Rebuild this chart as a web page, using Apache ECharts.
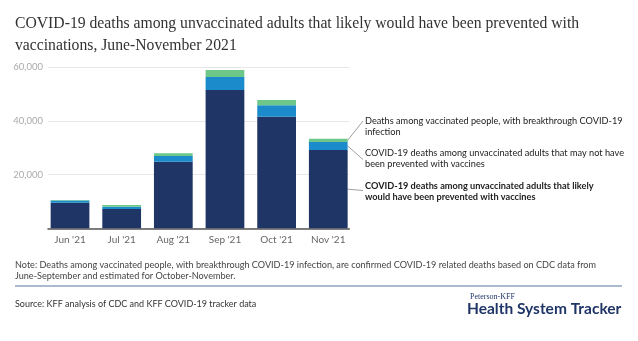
<!DOCTYPE html>
<html>
<head>
<meta charset="utf-8">
<script src="https://cdn.jsdelivr.net/npm/echarts@6/dist/echarts.min.js"></script>
<style>
  html, body { margin: 0; padding: 0; background: #fff; }
  #chart { width: 638px; height: 341px; }
</style>
</head>
<body>
<div id="chart"></div>
<script>
// Monthly deaths, June-November 2021
const months = ["Jun '21", "Jul '21", "Aug '21", "Sep '21", "Oct '21", "Nov '21"];
const preventable = [9500, 7200, 24800, 51400, 41500, 29100];
const notPreventable = [800, 800, 2100, 4900, 4250, 3000];
const breakthrough = [250, 650, 1000, 2600, 2000, 1250];
const yTicks = [0, 20000, 40000, 60000];

const seriesNames = [
  'COVID-19 deaths among unvaccinated adults that likely would have been prevented with vaccines',
  'COVID-19 deaths among unvaccinated adults that may not have been prevented with vaccines',
  'Deaths among vaccinated people, with breakthrough COVID-19 infection'
];

const NAVY = '#1f3566', BLUE = '#1b8bcb', GREEN = '#6cc788';
const SANS = 'Lato, "Noto Sans", sans-serif';

const chart = echarts.init(document.getElementById('chart'), null, { renderer: 'canvas' });

const yMax = yTicks[yTicks.length - 1];
const yStep = yTicks[1] - yTicks[0];

function barSeries(name, data, color) {
  return {
    name, type: 'bar', stack: 'deaths', data,
    xAxisIndex: 0, yAxisIndex: 0,
    barWidth: '75%',
    itemStyle: { color },
    emphasis: { disabled: true },
    z: 5
  };
}

chart.setOption({
  animation: false,
  backgroundColor: '#fff',
  title: {
    text: 'COVID-19 deaths among unvaccinated adults that likely would have been prevented with\nvaccinations, June-November 2021',
    left: 15, top: 13, padding: 0,
    textStyle: {
      fontFamily: '"Liberation Serif", "DejaVu Serif", serif',
      fontSize: 15.7, fontWeight: 'normal', color: '#333', lineHeight: 22
    }
  },
  grid: [
    // bars
    { left: 44.2, right: 283.9, top: 67, bottom: 112.7 },
    // frame: gridlines, value labels and baseline
    { left: 48, right: 288.7, top: 67, bottom: 112.7 }
  ],
  xAxis: [
    {
      gridIndex: 0, type: 'category', data: months,
      axisLine: { show: false }, axisTick: { show: false },
      axisLabel: { color: '#666', fontFamily: SANS, fontSize: 10, margin: 6 }
    },
    {
      gridIndex: 1, type: 'category', data: months,
      axisLine: { show: true, lineStyle: { color: '#555', width: 1.5 } },
      axisTick: { show: false }, axisLabel: { show: false }, z: 3
    }
  ],
  yAxis: [
    {
      gridIndex: 0, type: 'value', min: 0, max: yMax, interval: yStep,
      show: false
    },
    {
      gridIndex: 1, type: 'value', min: 0, max: yMax, interval: yStep,
      axisLine: { show: false }, axisTick: { show: false },
      splitLine: { lineStyle: { color: '#e6e6e6', width: 1 } },
      axisLabel: {
        color: '#aaa', fontFamily: SANS, fontSize: 9.5, margin: 5,
        formatter: v => (v === 0 ? '' : v.toLocaleString('en-US'))
      }
    }
  ],
  series: [
    barSeries(seriesNames[0], preventable, NAVY),
    barSeries(seriesNames[1], notPreventable, BLUE),
    barSeries(seriesNames[2], breakthrough, GREEN)
  ]
});

// Annotations next to the last bar, each tied to the middle of its segment
const last = months.length - 1;
const notes = [
  { series: 2, lines: ['Deaths among vaccinated people, with breakthrough COVID-19', 'infection'], textY: 116, lineEndY: 121, bold: false },
  { series: 1, lines: ['COVID-19 deaths among unvaccinated adults that may not have', 'been prevented with vaccines'], textY: 148, lineEndY: 159.5, bold: false },
  { series: 0, lines: ['COVID-19 deaths among unvaccinated adults that likely', 'would have been prevented with vaccines'], textY: 181, lineEndY: 190.5, bold: true }
];
const TEXT_X = 365;

const graphics = [];
notes.forEach(n => {
  const layout = chart.getModel().getSeriesByIndex(n.series).getData().getItemLayout(last);
  const x0 = layout.x + layout.width;
  const y0 = layout.y + layout.height / 2;
  graphics.push({
    type: 'line', silent: true,
    shape: { x1: x0, y1: y0, x2: TEXT_X - 2, y2: n.lineEndY },
    style: { stroke: '#888', lineWidth: 0.8 }
  });
  graphics.push({
    type: 'text', left: TEXT_X, top: n.textY, silent: true,
    style: {
      text: n.lines.join('\n'),
      font: (n.bold ? 'bold ' : '') + '9.2px ' + SANS,
      fill: '#222', lineHeight: 11
    }
  });
});

// Footer: note, rule, source and brand
graphics.push({
  type: 'text', left: 15, top: 259, silent: true,
  style: {
    text: 'Note: Deaths among vaccinated people, with breakthrough COVID-19 infection, are confirmed COVID-19 related deaths based on CDC data from\nJune-September and estimated for October-November.',
    font: '9.1px ' + SANS, fill: '#444', lineHeight: 11.5
  }
});
graphics.push({
  type: 'line', silent: true,
  shape: { x1: 15, y1: 286, x2: 622, y2: 286 },
  style: { stroke: '#8fa3bf', lineWidth: 1.5 }
});
graphics.push({
  type: 'text', left: 15, top: 300, silent: true,
  style: { text: 'Source: KFF analysis of CDC and KFF COVID-19 tracker data', font: '9px ' + SANS, fill: '#333' }
});
graphics.push({
  type: 'text', left: 470, top: 293, silent: true,
  style: { text: 'Peterson-KFF', font: '8px "Liberation Serif", serif', fill: NAVY }
});
graphics.push({
  type: 'text', left: 467, top: 301, silent: true,
  style: { text: 'Health System Tracker', font: 'bold 15.5px ' + SANS, fill: NAVY }
});

chart.setOption({ graphic: graphics });
</script>
</body>
</html>
